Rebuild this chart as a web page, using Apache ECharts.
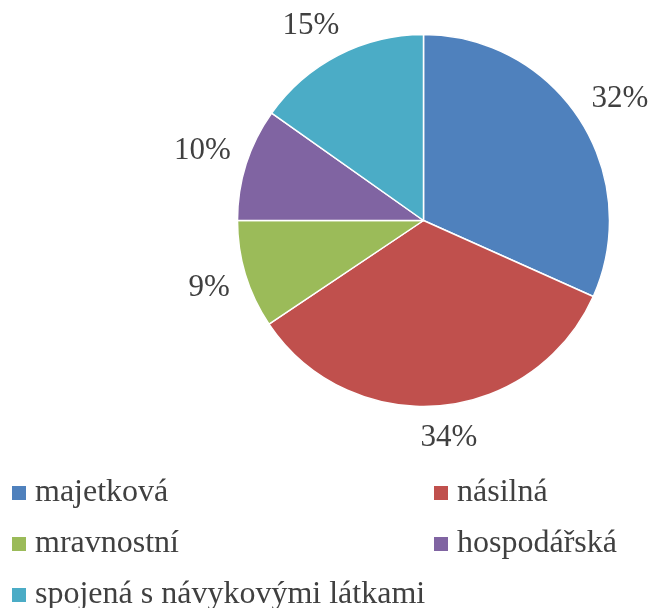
<!DOCTYPE html>
<html>
<head>
<meta charset="utf-8">
<script src="https://cdn.jsdelivr.net/npm/echarts@6/dist/echarts.min.js"></script>
<style>
  html, body { margin: 0; padding: 0; background: #ffffff; }
  #chart { width: 656px; height: 608px; }
</style>
</head>
<body>
<div id="chart"></div>
<script>
// ---- data ----
const categories = ['majetková', 'násilná', 'mravnostní', 'hospodářská', 'spojená s návykovými látkami'];
const values = [31.7, 33.9, 9.4, 9.8, 15.2];
const colors = ['#4F81BD', '#C0504D', '#9BBB59', '#8064A2', '#4BACC6'];
const legendLeftColumn = [categories[0], categories[2], categories[4]];
const legendRightColumn = [categories[1], categories[3]];

// ---- layout constants ----
const CX = 423.5, CY = 220.5, R = 186;
const LABEL_GAP = 203;
const FONT = "'Liberation Serif', 'Times New Roman', serif";
const TEXT_COLOR = '#404040';

const total = values.reduce((a, b) => a + b, 0);
function midAngle(i) {
  let cum = 0;
  for (let k = 0; k < i; k++) cum += values[k];
  const frac = (cum + values[i] / 2) / total;
  return frac * 2 * Math.PI; // clockwise from top
}

const chart = echarts.init(document.getElementById('chart'), null, { renderer: 'canvas' });

const legendBase = {
  orient: 'vertical',
  top: 475,
  height: 200,
  padding: 0,
  icon: 'rect',
  itemWidth: 14,
  itemHeight: 14,
  itemGap: 15,
  itemStyle: { borderWidth: 0 },
  textStyle: {
    fontFamily: FONT,
    fontSize: 32,
    lineHeight: 36,
    color: TEXT_COLOR,
    padding: [0, 0, 0, 4]
  },
  selectedMode: false
};

chart.setOption({
  backgroundColor: '#ffffff',
  animation: false,
  color: colors,
  legend: [
    Object.assign({}, legendBase, { left: 12, data: legendLeftColumn }),
    Object.assign({}, legendBase, { left: 434, data: legendRightColumn })
  ],
  series: [{
    type: 'pie',
    center: [CX, CY],
    radius: R,
    startAngle: 90,
    clockwise: true,
    percentPrecision: 0,
    avoidLabelOverlap: false,
    itemStyle: { borderColor: '#ffffff', borderWidth: 1.5 },
    label: {
      show: true,
      position: 'outside',
      formatter: '{d}%',
      fontFamily: FONT,
      fontSize: 31,
      color: TEXT_COLOR
    },
    labelLine: { show: false },
    labelLayout: function (params) {
      // anchor point just outside the slice, on its bisector; the label box
      // is pushed outward from it depending on the direction
      const a = midAngle(params.dataIndex);
      const dx = Math.sin(a), dy = -Math.cos(a);
      const hw = params.labelRect.width / 2;
      const hh = params.labelRect.height / 2;
      const px = CX + LABEL_GAP * dx, py = CY + LABEL_GAP * dy;
      const ox = Math.sign(dx) * Math.sqrt(Math.abs(dx)) * hw;
      const oy = Math.sign(dy) * Math.sqrt(Math.abs(dy)) * hh;
      return { x: px + ox, y: py + oy, align: 'center', verticalAlign: 'middle' };
    },
    emphasis: { scale: false },
    data: categories.map((name, i) => ({ name: name, value: values[i] }))
  }]
});
</script>
</body>
</html>
